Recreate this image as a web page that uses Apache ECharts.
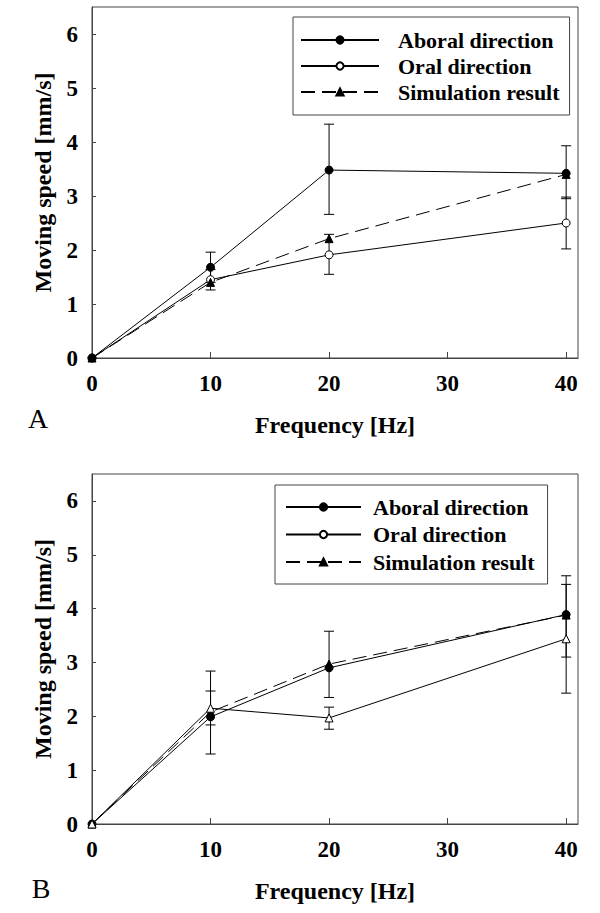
<!DOCTYPE html>
<html><head><meta charset="utf-8">
<script src="https://cdn.jsdelivr.net/npm/echarts@6/dist/echarts.min.js"></script>
<style>html,body{margin:0;padding:0;background:#fff}#c{width:600px;height:913px}</style>
</head><body><div id="c"></div>
<script>
// ---- data ----
const frequencies = [0, 10, 20, 40];
const xTicks = [0, 10, 20, 30, 40];
const yTicks = [0, 1, 2, 3, 4, 5, 6];
const seriesNames = ['Aboral direction', 'Oral direction', 'Simulation result'];
const panelLabels = ['A', 'B'];
const xTitle = 'Frequency [Hz]';
const yTitle = 'Moving speed [mm/s]';

// Panel A
const aboralA = [0, 1.68, 3.48, 3.42];
const aboralA_low = [null, 1.40, 2.66, 2.95];
const aboralA_high = [null, 1.96, 4.33, 3.93];
const oralA = [0, 1.45, 1.91, 2.50];
const oralA_low = [null, 1.26, 1.55, 2.02];
const oralA_high = [null, 1.64, 2.29, 2.98];
const simA = [0, 1.40, 2.21, 3.40];

// Panel B
const aboralB = [0, 1.99, 2.90, 3.89];
const aboralB_low = [null, 1.30, 2.35, 3.10];
const aboralB_high = [null, 2.84, 3.58, 4.61];
const oralB = [0, 2.15, 1.97, 3.44];
const oralB_low = [null, 1.84, 1.76, 2.43];
const oralB_high = [null, 2.47, 2.17, 4.45];
const simB = [0, 2.08, 2.97, 3.88];

// ---- helpers ----
const FONT = '"Liberation Serif","Times New Roman",serif';
const AXC = '#444';
function pairs(ys) { return frequencies.map((f, i) => [f, ys[i]]); }
function errData(lo, hi) {
  const d = [];
  frequencies.forEach((f, i) => { if (lo[i] != null) d.push([f, lo[i], hi[i]]); });
  return d;
}
function errRender(params, api) {
  const x = api.value(0), lo = api.value(1), hi = api.value(2);
  const p1 = api.coord([x, lo]), p2 = api.coord([x, hi]);
  const hw = 5, st = { stroke: '#000', lineWidth: 1 };
  return { type: 'group', children: [
    { type: 'line', shape: { x1: p1[0], y1: p1[1], x2: p2[0], y2: p2[1] }, style: st },
    { type: 'line', shape: { x1: p1[0] - hw, y1: p1[1], x2: p1[0] + hw, y2: p1[1] }, style: st },
    { type: 'line', shape: { x1: p2[0] - hw, y1: p2[1], x2: p2[0] + hw, y2: p2[1] }, style: st }
  ]};
}
function xAxisCfg(gi) {
  return { type: 'value', gridIndex: gi, min: 0, max: 41,
    name: xTitle, nameLocation: 'middle', nameGap: 55,
    nameTextStyle: { fontFamily: FONT, fontWeight: 'bold', fontSize: 24, color: '#000' },
    axisLine: { lineStyle: { color: AXC, width: 1 } },
    axisTick: { inside: true, length: 6, customValues: xTicks, lineStyle: { color: AXC } },
    axisLabel: { customValues: xTicks, margin: 14, fontFamily: FONT, fontSize: 23, fontWeight: 'bold', color: '#000' },
    splitLine: { show: false } };
}
function yAxisCfg(gi) {
  return { type: 'value', gridIndex: gi, min: 0, max: 6.5,
    name: yTitle, nameLocation: 'middle', nameGap: 37, nameRotate: 90,
    nameTextStyle: { fontFamily: FONT, fontWeight: 'bold', fontSize: 24, color: '#000' },
    axisLine: { lineStyle: { color: AXC, width: 1 } },
    axisTick: { inside: true, length: 4, customValues: yTicks, lineStyle: { color: AXC } },
    axisLabel: { customValues: yTicks, margin: 14, fontFamily: FONT, fontSize: 23, fontWeight: 'bold', color: '#000' },
    splitLine: { show: false } };
}
function lineSeries(name, ys, gi, symbol, filled, dashed, z) {
  return { type: 'line', name: name, xAxisIndex: gi, yAxisIndex: gi, data: pairs(ys),
    symbol: symbol, symbolSize: 8, z: z,
    lineStyle: { color: '#000', width: 1, type: dashed ? [14, 7] : 'solid' },
    itemStyle: filled ? { color: '#000', borderColor: '#000', borderWidth: 1 }
                      : { color: '#fff', borderColor: '#000', borderWidth: 1 },
    emphasis: { disabled: true }, silent: true };
}
function errSeries(lo, hi, gi) {
  return { type: 'custom', xAxisIndex: gi, yAxisIndex: gi, data: errData(lo, hi),
    renderItem: errRender, z: 1, silent: true };
}
function legendCfg(left, top, pad, itemWidth, gap, textPad, fs) {
  return { orient: 'vertical', left: left, top: top, padding: pad,
    itemWidth: itemWidth, itemHeight: 9, itemGap: gap, selectedMode: false,
    borderColor: AXC, borderWidth: 1, backgroundColor: '#fff',
    textStyle: { fontFamily: FONT, fontSize: fs, fontWeight: 'bold', color: '#000', lineHeight: 22, padding: [0, 0, 0, textPad] },
    data: seriesNames };
}

const chart = echarts.init(document.getElementById('c'), null, { renderer: 'svg' });
chart.setOption({
  animation: false,
  backgroundColor: '#fff',
  grid: [
    { left: 92, top: 7, width: 486, height: 351, show: true, borderColor: AXC, borderWidth: 1, outerBoundsMode: 'none', containLabel: false },
    { left: 92, top: 474, width: 486, height: 350, show: true, borderColor: AXC, borderWidth: 1, outerBoundsMode: 'none', containLabel: false }
  ],
  xAxis: [xAxisCfg(0), xAxisCfg(1)],
  yAxis: [yAxisCfg(0), yAxisCfg(1)],
  legend: [
    legendCfg(293, 17, [12, 10, 12, 7], 78, 4, 14, 22),
    legendCfg(275, 485, [11, 13, 11, 10], 75, 5.5, 7, 22)
  ],
  graphic: [
    { type: 'text', x: 38, y: 418, style: { text: panelLabels[0], font: '28px "Liberation Serif"', fill: '#000', align: 'center', verticalAlign: 'middle' } },
    { type: 'text', x: 41, y: 888, style: { text: panelLabels[1], font: '28px "Liberation Serif"', fill: '#000', align: 'center', verticalAlign: 'middle' } }
  ],
  series: [
    errSeries(aboralA_low, aboralA_high, 0),
    errSeries(oralA_low, oralA_high, 0),
    lineSeries(seriesNames[0], aboralA, 0, 'circle', true, false, 5),
    lineSeries(seriesNames[1], oralA, 0, 'circle', false, false, 3),
    lineSeries(seriesNames[2], simA, 0, 'triangle', true, true, 4),
    errSeries(aboralB_low, aboralB_high, 1),
    errSeries(oralB_low, oralB_high, 1),
    lineSeries(seriesNames[0], aboralB, 1, 'circle', true, false, 4),
    lineSeries(seriesNames[1], oralB, 1, 'triangle', false, false, 5),
    lineSeries(seriesNames[2], simB, 1, 'triangle', true, true, 3)
  ]
});
</script>
</body></html>
